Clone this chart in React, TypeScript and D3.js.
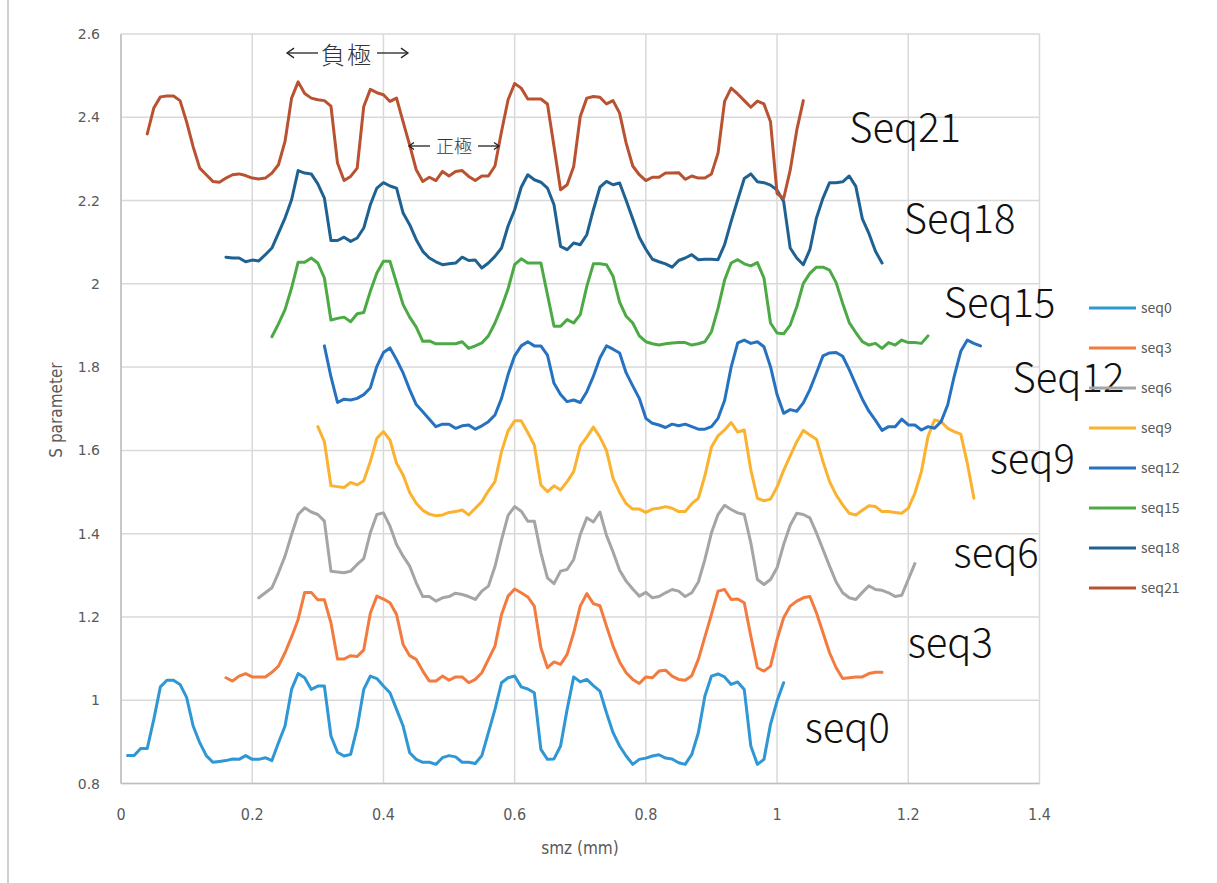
import React, { useEffect, useRef } from "react";
import * as d3 from "d3";

// values read at 0.01 mm steps from each series' first x
const seriesNames = ["seq0", "seq3", "seq6", "seq9", "seq12", "seq15", "seq18", "seq21"];
const seriesColors = ["#2e97d4", "#f47b3f", "#a5a5a5", "#fbb22f", "#2672c0", "#4caa45", "#1f6291", "#b95230"];
const seriesStart = [0.01, 0.16, 0.21, 0.3, 0.31, 0.23, 0.16, 0.04];

const seq0 = [
  0.867, 0.867, 0.884, 0.884, 0.954, 1.032, 1.048, 1.048, 1.038, 1.007,
  0.938, 0.898, 0.867, 0.851, 0.853, 0.855, 0.859, 0.858, 0.867, 0.858,
  0.858, 0.862, 0.855, 0.898, 0.938, 1.026, 1.064, 1.054, 1.026, 1.034,
  1.034, 0.914, 0.875, 0.866, 0.87, 0.934, 1.026, 1.058, 1.052, 1.034,
  1.018, 0.978, 0.938, 0.874, 0.858, 0.851, 0.851, 0.846, 0.862, 0.867,
  0.864, 0.851, 0.851, 0.848, 0.867, 0.922, 0.978, 1.042, 1.054, 1.058,
  1.032, 1.027, 1.018, 0.882, 0.858, 0.859, 0.89, 0.978, 1.056, 1.044,
  1.05, 1.035, 1.022, 0.97, 0.922, 0.89, 0.866, 0.846, 0.858, 0.861,
  0.866, 0.869, 0.861, 0.859, 0.85, 0.846, 0.87, 0.922, 1.01, 1.058,
  1.063, 1.056, 1.038, 1.044, 1.026, 0.89, 0.846, 0.858, 0.942, 0.998,
  1.042,
];
const seq3 = [
  1.054, 1.046, 1.058, 1.064, 1.056,
  1.056, 1.056, 1.067, 1.082, 1.114, 1.152, 1.194, 1.259, 1.259, 1.241,
  1.241, 1.186, 1.099, 1.099, 1.107, 1.105, 1.121, 1.209, 1.25, 1.243,
  1.234, 1.206, 1.134, 1.107, 1.098, 1.07, 1.046, 1.046, 1.058, 1.048,
  1.056, 1.056, 1.042, 1.05, 1.066, 1.098, 1.13, 1.206, 1.25, 1.267,
  1.258, 1.248, 1.226, 1.126, 1.078, 1.092, 1.086, 1.11, 1.162, 1.226,
  1.256, 1.232, 1.227, 1.178, 1.13, 1.092, 1.066, 1.05, 1.04, 1.056,
  1.054, 1.07, 1.072, 1.058, 1.05, 1.048, 1.059, 1.098, 1.152, 1.206,
  1.262, 1.266, 1.242, 1.243, 1.234, 1.154, 1.078, 1.07, 1.082, 1.146,
  1.198, 1.226, 1.238, 1.246, 1.249, 1.21, 1.162, 1.114, 1.078, 1.052,
  1.054, 1.056, 1.056, 1.064, 1.067, 1.067,
];
const seq6 = [
  1.246, 1.258, 1.27, 1.306, 1.346, 1.398, 1.446, 1.462, 1.452, 1.446,
  1.43, 1.31, 1.308, 1.306, 1.31, 1.326, 1.34, 1.402, 1.446, 1.45,
  1.418, 1.374, 1.346, 1.322, 1.282, 1.249, 1.249, 1.238, 1.246, 1.249,
  1.257, 1.254, 1.249, 1.242, 1.262, 1.274, 1.321, 1.385, 1.444, 1.465,
  1.454, 1.43, 1.43, 1.354, 1.294, 1.28, 1.31, 1.314, 1.338, 1.398,
  1.438, 1.428, 1.452, 1.396, 1.356, 1.312, 1.286, 1.267, 1.25, 1.259,
  1.246, 1.249, 1.258, 1.266, 1.262, 1.249, 1.258, 1.284, 1.338, 1.402,
  1.446, 1.468, 1.458, 1.45, 1.446, 1.378, 1.29, 1.278, 1.29, 1.318,
  1.374, 1.42, 1.449, 1.446, 1.438, 1.402, 1.362, 1.322, 1.284, 1.258,
  1.246, 1.242, 1.259, 1.275, 1.266, 1.264, 1.258, 1.249, 1.252, 1.29, 1.328,
];
const seq9 = [
  1.657,
  1.621, 1.515, 1.513, 1.511, 1.523, 1.517, 1.527, 1.573, 1.629, 1.645,
  1.625, 1.569, 1.541, 1.499, 1.473, 1.456, 1.447, 1.443, 1.445, 1.451,
  1.453, 1.457, 1.445, 1.461, 1.477, 1.503, 1.525, 1.597, 1.647, 1.671,
  1.671, 1.643, 1.613, 1.517, 1.501, 1.515, 1.505, 1.525, 1.549, 1.611,
  1.632, 1.656, 1.632, 1.6, 1.533, 1.499, 1.472, 1.459, 1.459, 1.451,
  1.459, 1.461, 1.465, 1.461, 1.453, 1.453, 1.472, 1.485, 1.539, 1.608,
  1.635, 1.649, 1.667, 1.644, 1.649, 1.553, 1.485, 1.479, 1.483, 1.512,
  1.552, 1.587, 1.621, 1.648, 1.637, 1.627, 1.573, 1.525, 1.493, 1.469,
  1.449, 1.445, 1.456, 1.467, 1.465, 1.453, 1.453, 1.451, 1.449, 1.461,
  1.497, 1.549, 1.633, 1.673, 1.669, 1.653, 1.645, 1.639, 1.569, 1.485,
];
const seq12 = [
  1.851, 1.777, 1.715, 1.723, 1.721, 1.725, 1.734, 1.75, 1.802, 1.835,
  1.846, 1.818, 1.786, 1.746, 1.71, 1.693, 1.675, 1.657, 1.663, 1.663,
  1.653, 1.659, 1.661, 1.651, 1.659, 1.669, 1.685, 1.725, 1.782, 1.827,
  1.851, 1.861, 1.851, 1.851, 1.829, 1.761, 1.734, 1.717, 1.721, 1.715,
  1.741, 1.778, 1.822, 1.851, 1.843, 1.834, 1.786, 1.755, 1.725, 1.677,
  1.665, 1.661, 1.655, 1.663, 1.659, 1.663, 1.657, 1.651, 1.651, 1.657,
  1.677, 1.72, 1.8, 1.858, 1.865, 1.857, 1.861, 1.849, 1.801, 1.734,
  1.689, 1.698, 1.694, 1.714, 1.746, 1.786, 1.827, 1.834, 1.835, 1.826,
  1.794, 1.758, 1.723, 1.694, 1.672, 1.648, 1.657, 1.657, 1.675, 1.661,
  1.661, 1.649, 1.657, 1.653, 1.669, 1.709, 1.778, 1.838, 1.865, 1.857, 1.851,
];
const seq15 = [
  1.873, 1.904, 1.938, 1.99, 2.052, 2.052, 2.062, 2.05,
  2.014, 1.913, 1.917, 1.92, 1.909, 1.928, 1.931, 1.982, 2.026, 2.054,
  2.054, 2.002, 1.95, 1.92, 1.896, 1.862, 1.863, 1.856, 1.856, 1.856,
  1.856, 1.861, 1.845, 1.851, 1.858, 1.875, 1.906, 1.944, 1.988, 2.046,
  2.06, 2.05, 2.05, 2.05, 1.974, 1.898, 1.898, 1.914, 1.906, 1.926,
  1.994, 2.048, 2.048, 2.046, 2.018, 1.956, 1.922, 1.906, 1.875, 1.861,
  1.856, 1.853, 1.856, 1.858, 1.859, 1.859, 1.853, 1.856, 1.861, 1.885,
  1.941, 2.009, 2.05, 2.058, 2.048, 2.043, 2.051, 2.014, 1.906, 1.882,
  1.88, 1.901, 1.945, 2.001, 2.025, 2.04, 2.04, 2.033, 2.003, 1.953,
  1.907, 1.883, 1.861, 1.853, 1.857, 1.845, 1.859, 1.853, 1.865, 1.859,
  1.859, 1.857, 1.875,
];
const seq18 = [
  2.064, 2.062, 2.062, 2.053, 2.057,
  2.055, 2.07, 2.086, 2.122, 2.158, 2.202, 2.272, 2.266, 2.264, 2.24,
  2.206, 2.104, 2.104, 2.112, 2.102, 2.11, 2.134, 2.19, 2.23, 2.243,
  2.235, 2.23, 2.17, 2.142, 2.106, 2.078, 2.062, 2.053, 2.046, 2.048,
  2.05, 2.064, 2.056, 2.057, 2.038, 2.05, 2.066, 2.086, 2.139, 2.178,
  2.232, 2.262, 2.25, 2.244, 2.23, 2.19, 2.09, 2.082, 2.098, 2.094,
  2.118, 2.178, 2.232, 2.246, 2.238, 2.242, 2.2, 2.156, 2.112, 2.083,
  2.059, 2.053, 2.048, 2.04, 2.056, 2.062, 2.07, 2.058, 2.059, 2.059,
  2.058, 2.094, 2.15, 2.202, 2.253, 2.264, 2.245, 2.243, 2.237, 2.225,
  2.198, 2.086, 2.062, 2.046, 2.082, 2.158, 2.206, 2.243, 2.243, 2.245,
  2.259, 2.234, 2.156, 2.121, 2.078, 2.05,
];
const seq21 = [
  2.36, 2.422, 2.449, 2.451, 2.451, 2.44, 2.389,
  2.329, 2.278, 2.262, 2.246, 2.244, 2.254, 2.262, 2.264, 2.26, 2.254,
  2.252, 2.254, 2.266, 2.286, 2.342, 2.446, 2.485, 2.457, 2.446, 2.442,
  2.44, 2.427, 2.29, 2.248, 2.258, 2.278, 2.426, 2.467, 2.459, 2.454,
  2.438, 2.446, 2.389, 2.333, 2.274, 2.246, 2.256, 2.248, 2.27, 2.259,
  2.27, 2.272, 2.258, 2.248, 2.259, 2.259, 2.283, 2.366, 2.442, 2.481,
  2.47, 2.444, 2.444, 2.444, 2.432, 2.33, 2.226, 2.238, 2.282, 2.402,
  2.446, 2.45, 2.448, 2.432, 2.44, 2.41, 2.338, 2.283, 2.262, 2.248,
  2.256, 2.256, 2.266, 2.266, 2.267, 2.251, 2.259, 2.254, 2.254, 2.264,
  2.314, 2.438, 2.47, 2.456, 2.44, 2.424, 2.439, 2.432, 2.389, 2.217,
  2.205, 2.273, 2.369, 2.44,
];
const seriesValues = [seq0, seq3, seq6, seq9, seq12, seq15, seq18, seq21];

const xTicks = [0, 0.2, 0.4, 0.6, 0.8, 1, 1.2, 1.4];
const yTicks = [0.8, 1, 1.2, 1.4, 1.6, 1.8, 2, 2.2, 2.4, 2.6];

// big labels next to the curves, anchored in data units
const curveLabels = ["seq0", "seq3", "seq6", "seq9", "Seq12", "Seq15", "Seq18", "Seq21"];
const curveLabelX = [1.042, 1.199, 1.269, 1.324, 1.359, 1.254, 1.193, 1.11];
const curveLabelY = [0.9, 1.104, 1.32, 1.546, 1.74, 1.92, 2.122, 2.341];

const W = 1217;
const H = 883;

export default function App() {
  const ref = useRef<SVGSVGElement | null>(null);

  useEffect(() => {
    const svg = d3.select(ref.current);
    svg.selectAll("*").remove();

    const x = d3.scaleLinear().domain([0, 1.4]).range([121, 1039.5]);
    const y = d3.scaleLinear().domain([0.8, 2.6]).range([783.5, 34]);

    svg.append("rect").attr("width", W).attr("height", H).attr("fill", "#fff");
    // chart border on the left edge
    svg.append("line").attr("x1", 8).attr("x2", 8).attr("y1", 0).attr("y2", H)
      .attr("stroke", "#d0d0d0").attr("stroke-width", 2);

    const grid = svg.append("g");
    grid.selectAll("line.h").data(yTicks).enter().append("line")
      .attr("x1", x(0)).attr("x2", x(1.4))
      .attr("y1", d => y(d)).attr("y2", d => y(d))
      .attr("stroke", "#d9d9d9").attr("stroke-width", 1.5);
    grid.selectAll("line.v").data(xTicks).enter().append("line")
      .attr("y1", y(0.8)).attr("y2", y(2.6))
      .attr("x1", d => x(d)).attr("x2", d => x(d))
      .attr("stroke", "#d9d9d9").attr("stroke-width", 1.5);
    grid.append("line").attr("x1", x(0)).attr("x2", x(0)).attr("y1", y(0.8)).attr("y2", y(2.6))
      .attr("stroke", "#bfbfbf").attr("stroke-width", 1.5);
    grid.append("line").attr("x1", x(0)).attr("x2", x(1.4)).attr("y1", y(0.8)).attr("y2", y(0.8))
      .attr("stroke", "#bfbfbf").attr("stroke-width", 1.5);

    svg.selectAll("text.yt").data(yTicks).enter().append("text")
      .attr("x", 100).attr("y", d => y(d) + 5)
      .attr("text-anchor", "end")
      .attr("font-family", "DejaVu Sans, sans-serif").attr("font-size", 14)
      .attr("fill", "#595959")
      .text(d => String(d));
    svg.selectAll("text.xt").data(xTicks).enter().append("text")
      .attr("x", d => x(d)).attr("y", 820)
      .attr("text-anchor", "middle")
      .attr("font-family", "Liberation Sans Narrow, DejaVu Sans Condensed, sans-serif").attr("font-size", 16)
      .attr("fill", "#595959")
      .text(d => String(d));

    svg.append("text").attr("x", 580).attr("y", 854).attr("text-anchor", "middle")
      .attr("font-family", "Liberation Sans Narrow, DejaVu Sans Condensed, sans-serif").attr("font-size", 17)
      .attr("fill", "#595959").text("smz (mm)");
    svg.append("text").attr("transform", "translate(62,410) rotate(-90)").attr("text-anchor", "middle")
      .attr("font-family", "Liberation Sans Narrow, DejaVu Sans Condensed, sans-serif").attr("font-size", 17)
      .attr("fill", "#595959").text("S parameter");

    const path = d3.line<[number, number]>().x(d => x(d[0])).y(d => y(d[1]));
    seriesValues.forEach((vals, s) => {
      const pts = vals.map((v, i) => [seriesStart[s] + i * 0.01, v] as [number, number]);
      svg.append("path")
        .attr("d", path(pts))
        .attr("fill", "none")
        .attr("stroke", seriesColors[s])
        .attr("stroke-width", 3)
        .attr("stroke-linejoin", "round")
        .attr("stroke-linecap", "round");
    });

    svg.selectAll("text.cl").data(curveLabels).enter().append("text")
      .attr("x", (d, i) => x(curveLabelX[i])).attr("y", (d, i) => y(curveLabelY[i]))
      .attr("font-family", "Noto Sans CJK JP, Noto Sans, sans-serif").attr("font-size", 40)
      .attr("font-weight", 300)
      .attr("fill", "#111")
      .text(d => d);

    // 負極 / 正極 annotations
    const ann = svg.append("g").attr("stroke", "#222").attr("fill", "none").attr("stroke-width", 1.3);
    const arrow = (x1: number, x2: number, yy: number, head: number) => {
      ann.append("line").attr("x1", x1).attr("x2", x2).attr("y1", yy).attr("y2", yy);
      const dir = x2 > x1 ? -1 : 1;
      ann.append("path").attr("d", `M${x2 + dir * head},${yy - head * 0.7}L${x2},${yy}L${x2 + dir * head},${yy + head * 0.7}`);
    };
    arrow(318, 287, 53, 7);
    arrow(377, 408, 53, 7);
    arrow(430, 409, 146, 5);
    arrow(478, 499, 146, 5);
    svg.append("text").attr("x", 347).attr("y", 64).attr("text-anchor", "middle")
      .attr("font-family", "Noto Sans CJK JP, sans-serif").attr("font-size", 24).attr("font-weight", 300)
      .attr("letter-spacing", 2).attr("fill", "#333").text("負極");
    svg.append("text").attr("x", 454).attr("y", 153).attr("text-anchor", "middle")
      .attr("font-family", "Noto Sans CJK JP, sans-serif").attr("font-size", 18).attr("font-weight", 300)
      .attr("fill", "#333").text("正極");

    const legend = svg.append("g");
    seriesNames.forEach((name, i) => {
      const ly = 308 + i * 40;
      legend.append("line").attr("x1", 1089).attr("x2", 1136).attr("y1", ly).attr("y2", ly)
        .attr("stroke", seriesColors[i]).attr("stroke-width", 3);
      legend.append("text").attr("x", 1141).attr("y", ly + 5)
        .attr("font-family", "Noto Sans CJK JP, sans-serif").attr("font-size", 14)
        .attr("fill", "#595959").text(name);
    });
  }, []);

  return (
    <svg ref={ref} width={W} height={H} style={{ position: "absolute", left: 0, top: 0 }} />
  );
}
